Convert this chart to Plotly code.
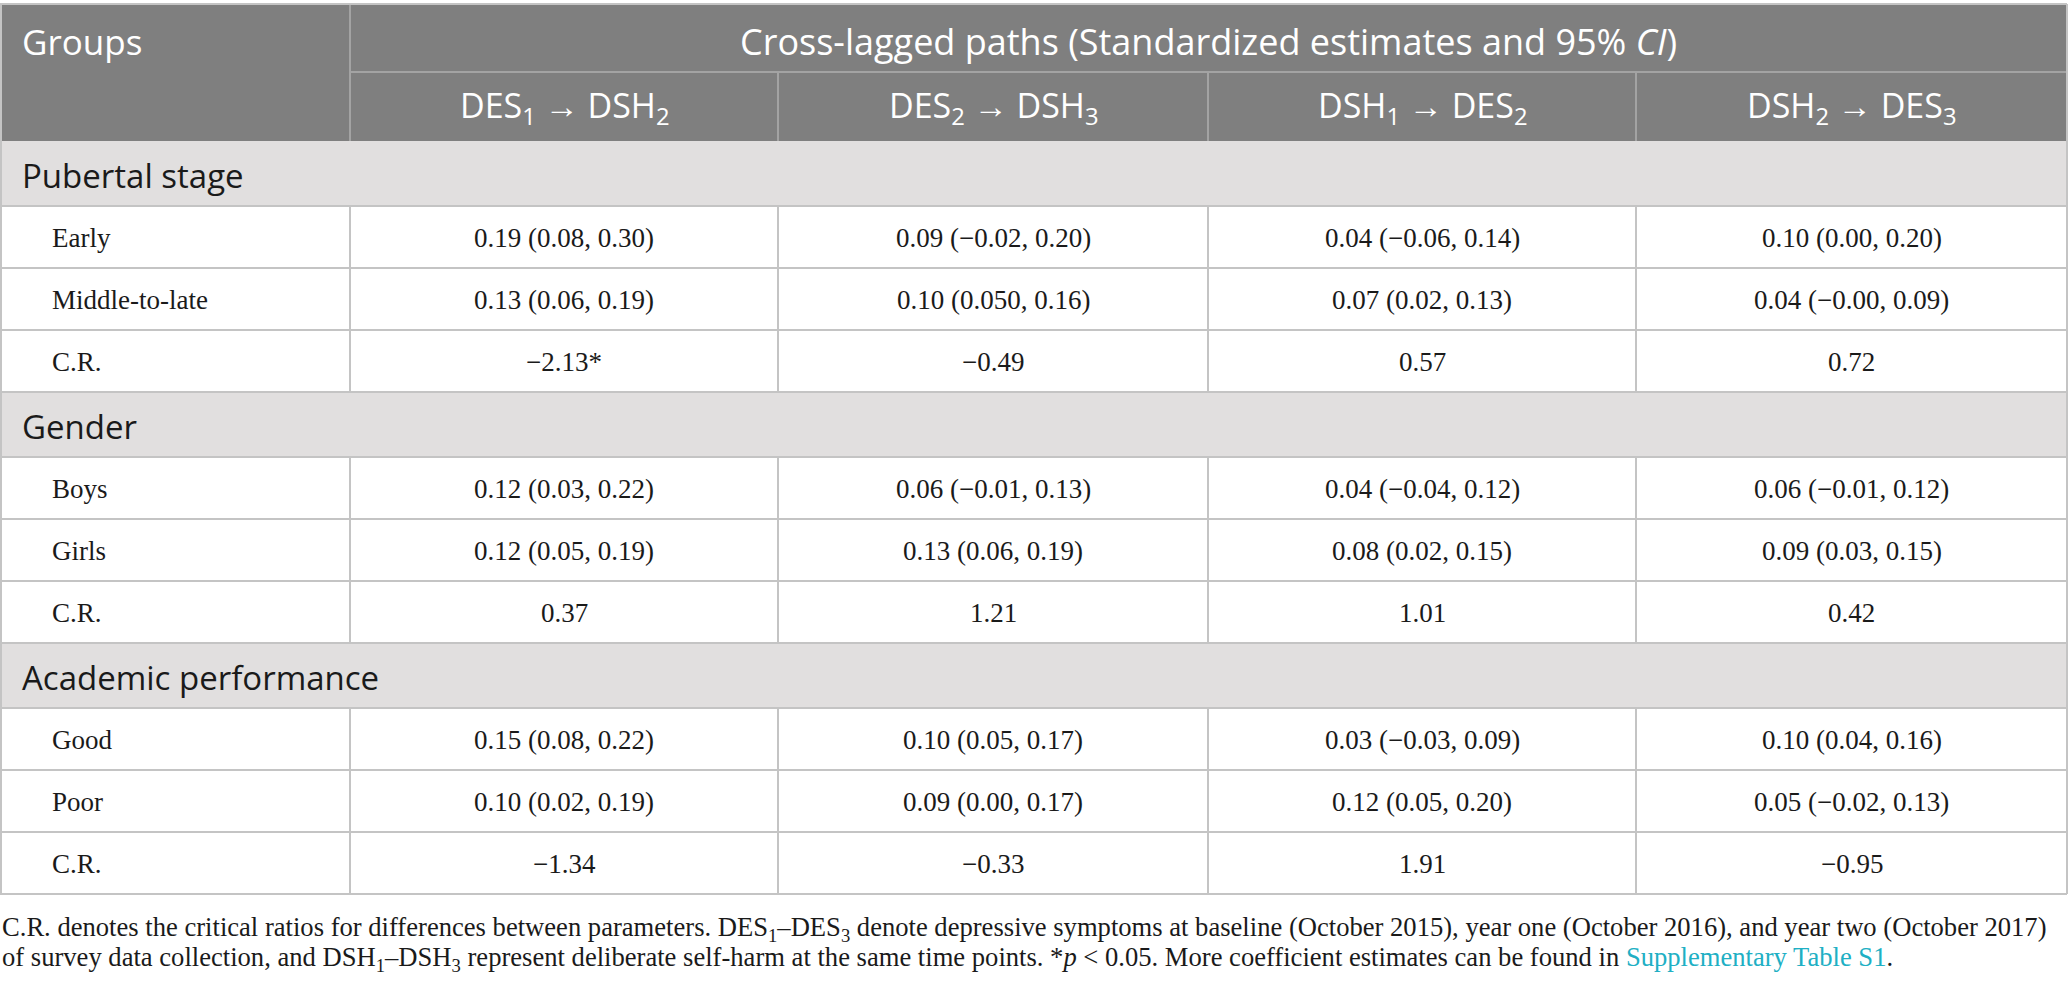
import plotly.graph_objs as go

groups = ["Pubertal stage", "Gender", "Academic performance"]
subgroups = [
    ["Early", "Middle-to-late", "C.R."],
    ["Boys", "Girls", "C.R."],
    ["Good", "Poor", "C.R."],
]
paths = [
    "DES<sub>1</sub> → DSH<sub>2</sub>",
    "DES<sub>2</sub> → DSH<sub>3</sub>",
    "DSH<sub>1</sub> → DES<sub>2</sub>",
    "DSH<sub>2</sub> → DES<sub>3</sub>",
]
des1_dsh2 = ["0.19 (0.08, 0.30)", "0.13 (0.06, 0.19)", "−2.13*",
             "0.12 (0.03, 0.22)", "0.12 (0.05, 0.19)", "0.37",
             "0.15 (0.08, 0.22)", "0.10 (0.02, 0.19)", "−1.34"]
des2_dsh3 = ["0.09 (−0.02, 0.20)", "0.10 (0.050, 0.16)", "−0.49",
             "0.06 (−0.01, 0.13)", "0.13 (0.06, 0.19)", "1.21",
             "0.10 (0.05, 0.17)", "0.09 (0.00, 0.17)", "−0.33"]
dsh1_des2 = ["0.04 (−0.06, 0.14)", "0.07 (0.02, 0.13)", "0.57",
             "0.04 (−0.04, 0.12)", "0.08 (0.02, 0.15)", "1.01",
             "0.03 (−0.03, 0.09)", "0.12 (0.05, 0.20)", "1.91"]
dsh2_des3 = ["0.10 (0.00, 0.20)", "0.04 (−0.00, 0.09)", "0.72",
             "0.06 (−0.01, 0.12)", "0.09 (0.03, 0.15)", "0.42",
             "0.10 (0.04, 0.16)", "0.05 (−0.02, 0.13)", "−0.95"]
columns = [des1_dsh2, des2_dsh3, dsh1_des2, dsh2_des3]

header_title = "Cross-lagged paths (Standardized estimates and 95% <i>CI</i>)"
footnote = [
    "C.R. denotes the critical ratios for differences between parameters. "
    "DES<sub>1</sub>–DES<sub>3</sub> denote depressive symptoms at baseline "
    "(October 2015), year one (October 2016), and year two (October 2017)",
    "of survey data collection, and DSH<sub>1</sub>–DSH<sub>3</sub> represent "
    "deliberate self-harm at the same time points. *<i>p</i> < 0.05. More "
    "coefficient estimates can be found in "
    "<span style='color:#20afc4'>Supplementary Table S1</span>.",
]

# layout (pixels)
W, H = 2068, 986
col_x = [0, 350, 778, 1208, 1636, 2067]
head_y = [4, 72, 141]
group_h = 65
row_h = 62
sans = "Open Sans"
serif = "Liberation Serif"
head_bg = "#7f7f7f"
group_bg = "#e1dfdf"
line_col = "#c4c4c4"
head_line = "#a3a3a3"
ink = "#1a1a1a"

shapes = []
annotations = []


def rect(x0, y0, x1, y1, fill):
    shapes.append(dict(type="rect", x0=x0, x1=x1, y0=y0, y1=y1, xref="x", yref="y",
                       fillcolor=fill, line=dict(width=0), layer="below"))


def line(x0, y0, x1, y1, color, width=2):
    shapes.append(dict(type="line", x0=x0, x1=x1, y0=y0, y1=y1, xref="x", yref="y",
                       line=dict(color=color, width=width)))


def text(x, y, s, size, color, family, anchor="center"):
    annotations.append(dict(x=x, y=y, xref="x", yref="y", text=s, showarrow=False,
                            xanchor=anchor, yanchor="middle",
                            font=dict(size=size, color=color, family=family)))


# header
rect(col_x[0], head_y[0], col_x[-1], head_y[2], head_bg)
line(col_x[1], head_y[1], col_x[-1], head_y[1], head_line)
line(col_x[1], head_y[0], col_x[1], head_y[2], head_line)
for x in col_x[2:-1]:
    line(x, head_y[1], x, head_y[2], head_line)
text(20, 41.5, "Groups", 35, "white", sans, "left")
text((col_x[1] + col_x[-1]) / 2, 41.5, header_title, 36, "white", sans)
for j, p in enumerate(paths):
    text((col_x[j + 1] + col_x[j + 2]) / 2, 107, p, 34, "white", sans)

# body
y = head_y[2]
k = 0
for g, subs in zip(groups, subgroups):
    rect(col_x[0], y, col_x[-1], y + group_h, group_bg)
    text(20, y + group_h / 2 + 2, g, 33, ink, sans, "left")
    line(col_x[0], y + group_h, col_x[-1], y + group_h, line_col)
    y += group_h
    for s in subs:
        text(50, y + row_h / 2 + 1, s, 27, ink, serif, "left")
        for j, col in enumerate(columns):
            text((col_x[j + 1] + col_x[j + 2]) / 2, y + row_h / 2 + 1, col[k], 27, ink, serif)
        for x in col_x[1:-1]:
            line(x, y, x, y + row_h, line_col)
        line(col_x[0], y + row_h, col_x[-1], y + row_h, line_col)
        y += row_h
        k += 1

table_bottom = y
line(col_x[0], head_y[0], col_x[-1], head_y[0], line_col)
line(col_x[0] + 1, head_y[0], col_x[0] + 1, table_bottom, line_col)
line(col_x[-1], head_y[0], col_x[-1], table_bottom, line_col)

for i, f in enumerate(footnote):
    text(0, table_bottom + 35 + i * 30, f, 26.6, ink, serif, "left")

fig = go.Figure(
    layout=go.Layout(
        width=W,
        height=H,
        margin=dict(l=0, r=0, t=0, b=0),
        paper_bgcolor="white",
        plot_bgcolor="white",
        xaxis=dict(range=[0, W], visible=False, fixedrange=True),
        yaxis=dict(range=[H, 0], visible=False, fixedrange=True),
        shapes=shapes,
        annotations=annotations,
        showlegend=False,
    )
)
fig.write_html("out.html", config={"displayModeBar": False},
               post_script="document.body.style.margin = '0';")
